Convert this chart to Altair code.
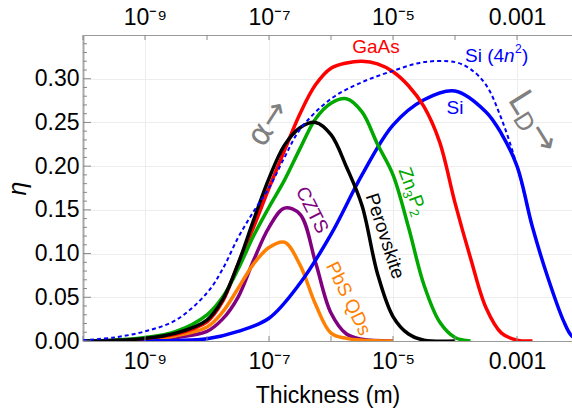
import altair as alt
import pandas as pd
import numpy as np

# ---------------- data (log10 thickness in m, efficiency) ----------------
gaas_L = [-10, -9.5, -9, -8.5, -8, -7.75, -7.5, -7.25, -7, -6.75, -6.5, -6.25, -6, -5.75, -5.5, -5.25, -5, -4.75, -4.5, -4.25, -4, -3.75, -3.5, -3.25, -3, -2.75]
gaas_eta = [0, 0.0007, 0.003, 0.008, 0.022, 0.045, 0.088, 0.13, 0.175, 0.218, 0.26, 0.293, 0.312, 0.318, 0.320, 0.317, 0.308, 0.292, 0.268, 0.228, 0.158, 0.095, 0.038, 0.009, 0.001, 0]

zn_L = [-10, -9.5, -9, -8.5, -8, -7.75, -7.5, -7.25, -7, -6.75, -6.5, -6.25, -6, -5.75, -5.5, -5.25, -5, -4.75, -4.5, -4.25, -4, -3.75]
zn_eta = [0, 0.001, 0.004, 0.011, 0.030, 0.05, 0.082, 0.12, 0.153, 0.184, 0.22, 0.254, 0.272, 0.277, 0.262, 0.225, 0.19, 0.13, 0.064, 0.022, 0.004, 0]

pero_L = [-10, -9.5, -9, -8.5, -8, -7.75, -7.5, -7.25, -7, -6.75, -6.5, -6.25, -6, -5.75, -5.5, -5.25, -5, -4.75, -4.5, -4]
pero_eta = [0, 0.0007, 0.003, 0.009, 0.024, 0.047, 0.088, 0.138, 0.186, 0.224, 0.244, 0.250, 0.236, 0.199, 0.155, 0.077, 0.028, 0.008, 0.001, 0]

czts_L = [-10, -9.5, -9, -8.5, -8, -7.75, -7.5, -7.25, -7, -6.75, -6.5, -6.25, -6, -5.75, -5.5, -5]
czts_eta = [0, 0.0005, 0.0015, 0.004, 0.011, 0.025, 0.05, 0.092, 0.13, 0.152, 0.145, 0.09, 0.032, 0.008, 0.002, 0]

pbs_L = [-10, -9.5, -9, -8.5, -8, -7.75, -7.5, -7.25, -7, -6.75, -6.5, -6.25, -6, -5.75, -5.5, -5]
pbs_eta = [0, 0.0005, 0.002, 0.006, 0.016, 0.033, 0.06, 0.088, 0.107, 0.113, 0.087, 0.042, 0.009, 0.003, 0.001, 0]

si_L = [-10, -9, -8.5, -8, -7.5, -7, -6.5, -6, -5.5, -5, -4.5, -4, -3.5, -3.25, -3, -2.75, -2.5, -2.25, -2.12, -2]
si_eta = [0, 0.0001, 0.0006, 0.0025, 0.011, 0.026, 0.066, 0.122, 0.19, 0.247, 0.276, 0.286, 0.262, 0.237, 0.200, 0.13, 0.072, 0.023, 0.006, 0.002]

si4_L = [-10, -9.5, -9, -8.5, -8, -7.75, -7.5, -7.25, -7, -6.75, -6.5, -6, -5.5, -5, -4.5, -4, -3.75, -3.5, -3.25, -3, -2.75, -2.5, -2.25, -2.12, -2]
si4_eta = [0.001, 0.004, 0.011, 0.024, 0.055, 0.082, 0.118, 0.148, 0.175, 0.21, 0.242, 0.277, 0.296, 0.309, 0.319, 0.319, 0.311, 0.293, 0.254, 0.200, 0.13, 0.072, 0.023, 0.006, 0.002]

x_tick_values = [1e-9, 1e-7, 1e-5, 1e-3]
x_tick_labels = ["10⁻⁹", "10⁻⁷", "10⁻⁵", "0.001"]
y_tick_values = [0.0, 0.05, 0.10, 0.15, 0.20, 0.25, 0.30]

W, H = 489, 306
FONT = "Liberation Sans"
GRAY = "#808080"

xscale = alt.Scale(type="log", domain=[1e-10, 10 ** -2.113], nice=False)
yscale = alt.Scale(domain=[0, 0.35], nice=False, zero=False)

# label expression for x axes
expr = ""
for i, (v, lab) in enumerate(zip(x_tick_values, x_tick_labels)):
    if i < len(x_tick_values) - 1:
        expr += f"datum.value < {v * 10:.0e} ? '{lab}' : "
    else:
        expr += f"'{lab}'"

yaxis = alt.Axis(values=y_tick_values, format=".2f", grid=True, gridColor="#ededed",
                 ticks=False, tickSize=0, domainColor="#aaaaaa", domainWidth=2,
                 labelFont=FONT, labelFontSize=23, labelColor="black", labelPadding=4,
                 title="η", titleFont=FONT, titleFontSize=25, titleFontStyle="italic",
                 titleFontWeight="normal", titleColor="black", titlePadding=4)
Y = alt.Y("eta:Q", scale=yscale, axis=yaxis)

x_bottom = alt.Axis(orient="bottom", values=x_tick_values, labelExpr=expr, grid=True,
                    gridColor="#ededed", ticks=False, tickSize=0, domainColor="#999999",
                    labelFont=FONT, labelFontSize=23, labelColor="black", labelPadding=9,
                    labelOverlap=False, labelFlush=False,
                    title="Thickness (m)", titleFont=FONT, titleFontSize=23,
                    titleFontWeight="normal", titleColor="black", titlePadding=11)
x_top = alt.Axis(orient="top", values=x_tick_values, labelExpr=expr, grid=False,
                 ticks=False, tickSize=0, domainColor="#999999",
                 labelFont=FONT, labelFontSize=23, labelColor="black", labelPadding=6,
                 labelOverlap=False, labelFlush=False, title=None)


def curve(L, eta, color, width=3.5, dash=None, axis=None):
    df = pd.DataFrame({"t": [10.0 ** v for v in L], "eta": eta})
    kw = dict(color=color, strokeWidth=width, interpolate="catmull-rom", clip=True)
    if dash:
        kw["strokeDash"] = dash
    return alt.Chart(df).mark_line(**kw).encode(
        x=alt.X("t:Q", scale=xscale, axis=axis), y=Y)


def label(text, L, eta, color, size=19, angle=0, align="center", baseline="middle",
          style="normal", font=FONT):
    df = pd.DataFrame({"t": [10.0 ** L], "eta": [eta], "label": [text]})
    return alt.Chart(df).mark_text(font=font, fontSize=size, color=color, angle=angle % 360,
                                   align=align, baseline=baseline, fontStyle=style).encode(
        x=alt.X("t:Q", scale=xscale, axis=None), y=Y, text="label:N")


layers = []
layers.append(curve(czts_L, czts_eta, "#800080", axis=x_bottom))
layers.append(curve(pbs_L, pbs_eta, "#FF8000"))
layers.append(curve(si_L, si_eta, "#0000FF"))
layers.append(curve(gaas_L, gaas_eta, "#FF0000"))
layers.append(curve(zn_L, zn_eta, "#00A800"))
layers.append(curve(pero_L, pero_eta, "#000000"))
layers.append(curve(si4_L, si4_eta, "#0000FF", width=2, dash=[4, 3]))

# inward ticks
decades = pd.DataFrame({"t": [10.0 ** d for d in range(-10, -2)]})
layers.append(alt.Chart(decades).mark_rule(color="#888888", strokeWidth=1).encode(
    x=alt.X("t:Q", scale=xscale, axis=x_top), y=alt.value(0), y2=alt.value(5)))
layers.append(alt.Chart(decades).mark_rule(color="#888888", strokeWidth=1).encode(
    x=alt.X("t:Q", scale=xscale, axis=None), y=alt.value(H), y2=alt.value(H - 5)))

ymaj = pd.DataFrame({"eta": y_tick_values})
ymin = pd.DataFrame({"eta": [round(v, 2) for v in np.arange(0.01, 0.35, 0.01) if round(v * 100) % 5 != 0]})
layers.append(alt.Chart(ymaj).mark_rule(color="#888888", strokeWidth=1).encode(
    y=Y, x=alt.value(0), x2=alt.value(8)))
layers.append(alt.Chart(ymin).mark_rule(color="#888888", strokeWidth=1).encode(
    y=Y, x=alt.value(0), x2=alt.value(4)))

# annotations
layers += [
    label("GaAs", -5.274, 0.336, "#FF0000"),
    label("Si (4", -3.839, 0.3191, "#0000FF", align="left", baseline="alphabetic"),
    label("n", -3.21, 0.3191, "#0000FF", align="left", baseline="alphabetic", style="italic"),
    label("2", -3.032, 0.3294, "#0000FF", size=12, align="left", baseline="alphabetic"),
    label(")", -2.919, 0.3191, "#0000FF", align="left", baseline="alphabetic"),
    label("Si", -4.0, 0.266, "#0000FF"),
    label("α→", -7.016, 0.2493, GRAY, size=32, angle=-57, font="DejaVu Sans"),
    label("L", -3.156, 0.2763, GRAY, size=34, angle=58, align="left", baseline="alphabetic", font="DejaVu Sans"),
    label("D", -3.077, 0.2544, GRAY, size=24, angle=58, align="left", baseline="alphabetic", font="DejaVu Sans"),
    label("→", -2.837, 0.2401, GRAY, size=34, angle=58, align="left", baseline="alphabetic", font="DejaVu Sans"),
    label("Zn", -4.915, 0.1953, "#00A800", angle=70, align="left", baseline="alphabetic"),
    label("3", -4.853, 0.1699, "#00A800", size=13, angle=70, align="left", baseline="alphabetic"),
    label("P", -4.752, 0.1638, "#00A800", angle=70, align="left", baseline="alphabetic"),
    label("2", -4.744, 0.1485, "#00A800", size=13, angle=70, align="left", baseline="alphabetic"),
    label("Perovskite", -5.129, 0.1201, "#000000", angle=72),
    label("CZTS", -6.306, 0.1498, "#800080", angle=63),
    label("PbS QDs", -5.718, 0.0486, "#FF8000", angle=64),
]

chart = alt.layer(*layers).properties(
    width=W, height=H,
    padding={"left": 83, "top": 35, "right": 0, "bottom": 71},
    autosize=alt.AutoSizeParams(type="none"),
).resolve_axis(x="independent").configure_view(stroke=None)

chart.save("out.html", embed_options={"renderer": "svg", "actions": False})
